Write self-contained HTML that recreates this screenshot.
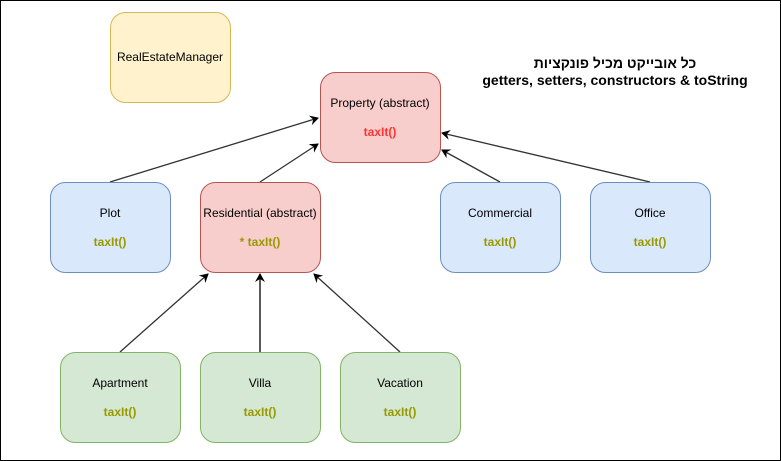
<!DOCTYPE html>
<html><head><meta charset="utf-8"><style>
html,body{margin:0;padding:0;background:#fff}
svg{display:block}
text{font-family:"Liberation Sans","Noto Sans CJK JP",sans-serif;font-size:12px;text-anchor:middle}
.m{font-weight:bold}
.t{font-size:14px;font-weight:bold}
</style></head><body>
<svg width="781" height="461" viewBox="0 0 781 461" xmlns="http://www.w3.org/2000/svg">
<defs>
<marker id="a" markerWidth="10" markerHeight="10" refX="8" refY="5" orient="auto" markerUnits="userSpaceOnUse">
<path d="M0,0 L9,5 L0,10 L3,5 Z" fill="#000"/>
</marker>
</defs>
<rect x="0.5" y="0.5" width="780" height="460" fill="#fff" stroke="#000" stroke-width="1"/>
<g stroke="#333" stroke-width="1.3" fill="none" marker-end="url(#a)">
<line x1="110" y1="182" x2="318" y2="118"/>
<line x1="260" y1="182" x2="318" y2="144"/>
<line x1="500" y1="182" x2="442" y2="150"/>
<line x1="650" y1="182" x2="442" y2="133"/>
<line x1="120" y1="352" x2="208" y2="274"/>
<line x1="260" y1="352" x2="260" y2="274" stroke="#000"/>
<line x1="400" y1="352" x2="314" y2="274"/>
</g>
<rect x="110.5" y="12.5" width="120" height="90" rx="15" fill="#fff2cc" stroke="#d6b656"/>
<text x="170" y="61">RealEstateManager</text>
<rect x="320.5" y="72.5" width="120" height="90" rx="15" fill="#f8cecc" stroke="#b85450"/>
<text x="380" y="107">Property (abstract)</text>
<text x="380" y="136" class="m" fill="#ff3333">taxIt()</text>
<rect x="50.5" y="182.5" width="120" height="90" rx="15" fill="#dae8fc" stroke="#6c8ebf"/>
<text x="110" y="217">Plot</text>
<text x="110" y="246" class="m" fill="#999900">taxIt()</text>
<rect x="200.5" y="182.5" width="120" height="90" rx="15" fill="#f8cecc" stroke="#b85450"/>
<text x="260" y="217">Residential (abstract)</text>
<text x="260" y="246" class="m" fill="#999900">* taxIt()</text>
<rect x="440.5" y="182.5" width="120" height="90" rx="15" fill="#dae8fc" stroke="#6c8ebf"/>
<text x="500" y="217">Commercial</text>
<text x="500" y="246" class="m" fill="#999900">taxIt()</text>
<rect x="590.5" y="182.5" width="120" height="90" rx="15" fill="#dae8fc" stroke="#6c8ebf"/>
<text x="650" y="217">Office</text>
<text x="650" y="246" class="m" fill="#999900">taxIt()</text>
<rect x="60.5" y="352.5" width="120" height="90" rx="15" fill="#d5e8d4" stroke="#82b366"/>
<text x="120" y="387">Apartment</text>
<text x="120" y="416" class="m" fill="#999900">taxIt()</text>
<rect x="200.5" y="352.5" width="120" height="90" rx="15" fill="#d5e8d4" stroke="#82b366"/>
<text x="260" y="387">Villa</text>
<text x="260" y="416" class="m" fill="#999900">taxIt()</text>
<rect x="340.5" y="352.5" width="120" height="90" rx="15" fill="#d5e8d4" stroke="#82b366"/>
<text x="400" y="387">Vacation</text>
<text x="400" y="416" class="m" fill="#999900">taxIt()</text>
<text x="615" y="68" class="t" direction="rtl">כל אובייקט מכיל פונקציות</text>
<text x="615" y="85" class="t">getters, setters, constructors &amp; toString</text>
</svg>
</body></html>
